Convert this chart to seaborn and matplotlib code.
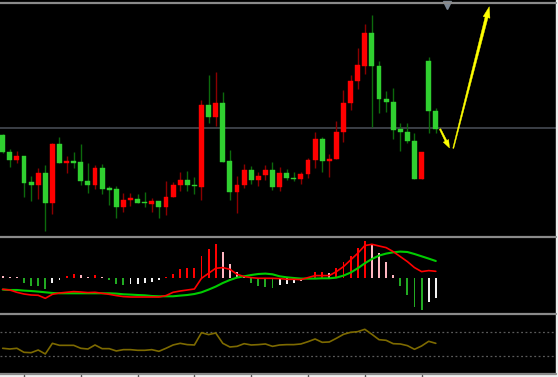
import numpy as np
import pandas as pd
import matplotlib
matplotlib.use("Agg")
import matplotlib.pyplot as plt
import seaborn as sns
from matplotlib.lines import Line2D
from matplotlib.patches import Rectangle, Polygon
from matplotlib.transforms import IdentityTransform

sns.set_style("dark")
plt.rcParams["font.family"] = ["DejaVu Sans"]
plt.rcParams["patch.force_edgecolor"] = False

# ---------------- data ----------------
bars = list(range(62))
opens = [105.0, 87.7, 79.7, 84.0, 58.3, 55.0, 66.7, 37.3, 95.7, 77.0,
         79.0, 78.0, 59.0, 54.7, 71.7, 52.0, 51.3, 33.0, 39.7, 41.3,
         38.3, 36.3, 38.7, 32.7, 43.0, 54.7, 59.7, 55.0, 53.3, 134.7,
         123.3, 136.7, 79.0, 47.7, 54.7, 70.0, 59.7, 65.3, 70.3, 53.0,
         66.7, 62.3, 61.0, 65.7, 80.3, 101.0, 78.7, 80.7, 107.7, 137.0,
         159.0, 174.3, 207.0, 174.0, 141.0, 138.0, 110.7, 108.0, 99.0, 61.0,
         179.0, 128.7]
highs = [106.0, 91.0, 89.0, 84.0, 64.0, 71.7, 75.0, 96.7, 103.0, 84.3,
         88.0, 96.0, 77.0, 75.0, 75.7, 54.3, 54.3, 47.3, 46.7, 46.0,
         48.3, 42.3, 38.7, 59.0, 58.3, 68.3, 69.0, 63.3, 140.3, 165.3,
         168.3, 148.0, 90.0, 64.0, 75.7, 74.3, 68.3, 75.3, 77.7, 73.3,
         71.0, 67.7, 68.0, 81.7, 108.3, 103.3, 86.0, 119.3, 150.0, 165.0,
         192.3, 216.0, 225.0, 179.3, 149.0, 152.0, 116.7, 117.0, 106.7, 87.7,
         183.3, 131.7]
lows = [87.0, 73.0, 76.7, 43.3, 39.3, 40.7, 9.3, 26.0, 76.7, 67.3,
        71.7, 55.0, 47.3, 51.3, 46.3, 35.3, 22.0, 28.0, 33.7, 37.0,
        33.3, 27.7, 22.3, 24.7, 43.0, 49.0, 49.3, 45.7, 40.0, 117.0,
        113.7, 78.3, 39.7, 26.7, 52.3, 55.7, 54.0, 60.0, 50.3, 49.0,
        60.3, 58.7, 56.3, 62.3, 71.7, 68.3, 62.7, 80.7, 98.3, 130.0,
        150.7, 166.0, 112.7, 127.3, 128.0, 100.7, 88.7, 96.7, 61.0, 61.0,
        107.3, 107.3]
closes = [87.7, 79.7, 83.7, 57.3, 55.3, 66.7, 37.3, 95.7, 76.7, 78.7,
          77.3, 58.7, 55.0, 71.7, 51.3, 50.3, 33.0, 40.3, 41.7, 37.0,
          36.7, 39.0, 32.7, 43.0, 55.3, 59.7, 54.7, 54.0, 134.7, 123.3,
          136.7, 78.3, 47.7, 55.3, 70.0, 59.7, 63.7, 69.7, 53.0, 66.7,
          62.0, 61.0, 66.0, 80.3, 101.0, 78.7, 80.7, 108.0, 137.0, 159.0,
          174.7, 207.0, 174.3, 140.7, 138.0, 110.3, 107.7, 98.7, 61.0, 87.7,
          128.7, 111.3]
level_price = 111.5

macd_main = [-11.0, -11.7, -14.0, -15.7, -16.7, -17.0, -20.0, -16.0, -14.7, -14.0,
             -13.3, -13.7, -14.3, -14.0, -15.0, -16.0, -17.3, -18.3, -18.7, -18.7,
             -18.7, -18.7, -18.7, -17.3, -14.0, -12.7, -11.7, -10.7, 0.0, 5.0,
             10.0, 10.7, 9.0, 4.0, 1.7, 0.7, 0.0, 0.0, 0.0, -0.3,
             -1.0, -1.0, -1.3, 0.7, 2.7, 2.7, 2.7, 6.7, 11.7, 18.3,
             25.0, 32.7, 34.0, 32.3, 30.7, 26.7, 21.7, 16.7, 10.7, 6.7,
             7.7, 7.0]
macd_signal = [-11.3, -11.7, -11.7, -12.3, -12.7, -13.3, -14.0, -14.7, -15.0, -15.0,
               -15.0, -15.0, -15.0, -15.0, -15.0, -15.0, -15.3, -16.0, -16.3, -16.7,
               -17.0, -17.7, -18.0, -18.0, -18.0, -17.3, -16.7, -15.7, -14.0, -11.3,
               -8.3, -4.7, -1.7, 0.7, 2.0, 3.3, 4.3, 4.7, 4.0, 2.0,
               1.0, 0.3, -0.3, -0.3, -0.3, 0.0, 0.0, 0.7, 2.7, 5.7,
               10.0, 15.0, 19.3, 22.7, 24.7, 26.0, 26.7, 26.3, 24.3, 22.0,
               19.7, 17.3]
macd_hist = [2.0, 1.6, 1.2, -4.3, -7.3, -7.7, -11.0, -4.3, -1.7, 2.3,
             4.7, 3.3, 1.7, 3.0, 1.0, -2.0, -5.7, -6.3, -5.7, -5.3,
             -5.0, -3.3, -2.0, 1.0, 4.3, 9.0, 10.0, 10.3, 22.7, 29.0,
             34.0, 26.7, 14.0, 6.0, 1.7, -4.3, -7.7, -8.3, -9.3, -6.7,
             -5.3, -4.3, -2.7, 1.0, 6.0, 6.3, 5.0, 10.0, 16.7, 22.7,
             30.0, 37.3, 33.3, 25.0, 16.0, 3.3, -7.7, -17.0, -28.3, -31.3,
             -23.3, -19.3]
osc_values = [43.0, 41.8, 43.0, 36.2, 35.6, 40.1, 33.4, 51.4, 48.0, 48.0,
              48.0, 43.0, 41.8, 48.6, 42.4, 42.4, 38.5, 40.7, 40.7, 39.6,
              39.6, 40.7, 37.9, 43.0, 48.6, 51.4, 49.2, 48.6, 69.4, 66.1,
              68.9, 51.4, 45.2, 46.3, 50.8, 48.6, 49.2, 50.3, 46.3, 48.6,
              49.2, 49.2, 50.3, 54.2, 58.7, 53.1, 53.7, 59.9, 66.6, 70.0,
              71.1, 75.1, 66.6, 57.6, 56.5, 50.8, 50.3, 47.5, 41.3, 46.9,
              54.8, 51.4]
osc_levels = [70, 30]
arrow_small = [(61.6, 111.0), (62.93, 92.0)]
arrow_big = [(63.46, 91.7), (68.53, 233.3)]
period_ticks = [3, 11, 19, 27, 35, 43, 51, 59]
scroll_marker = (62.6, 235.0)

df = pd.DataFrame({"bar": bars, "open": opens, "high": highs, "low": lows,
                   "close": closes, "macd": macd_main, "signal": macd_signal,
                   "hist": macd_hist, "osc": osc_values})

# ---------------- layout ----------------
W, H = 558, 377
fig = plt.figure(figsize=(W / 100, H / 100), dpi=100, facecolor="black")


def rect(x0, y0, x1, y1):
    return [x0 / W, 1 - y1 / H, (x1 - x0) / W, (y1 - y0) / H]


ax1 = fig.add_axes(rect(0, 3, 556, 236.5))
ax2 = fig.add_axes(rect(0, 236.5, 556, 313.5))
ax3 = fig.add_axes(rect(0, 313.5, 556, 373.5))
XL = (-0.38, 77.93)
for ax in (ax1, ax2, ax3):
    ax.set_facecolor("black")
    ax.set_xlim(*XL)
    ax.set_xticks([])
    ax.set_yticks([])
    for s in ax.spines.values():
        s.set_visible(False)
ax1.set_ylim(3.5, 237)
ax2.set_ylim(-35.2, 41.8)
ax3.set_ylim(0.4, 101.8)

# white strips at right and bottom
fig.patches.append(Rectangle((556 / W, 0), 2 / W, 1, transform=fig.transFigure,
                             color="#f0f0f0", zorder=0))
fig.patches.append(Rectangle((0, 0), 1, 3.2 / H, transform=fig.transFigure,
                             color="#f0f0f0", zorder=0))

# panel separator lines
for yy in (3.2, 236.5, 313.5, 373.5):
    fig.add_artist(Line2D([0, 556 / W], [1 - yy / H, 1 - yy / H],
                          transform=fig.transFigure, color="#8a8a8a", lw=1.6))

# ---------------- main candles ----------------
ax1.axhline(level_price, color="#454a52", lw=1.2, zorder=1)
for _, r in df.iterrows():
    up = r["close"] >= r["open"]
    body = "#ff0000" if up else "#30d030"
    wick = "#8b0000" if up else "#0c6a0c"
    ax1.vlines(r["bar"], r["low"], r["high"], color=wick, lw=1.0, zorder=2)
    lo = min(r["open"], r["close"])
    hgt = max(abs(r["close"] - r["open"]), 0.8)
    ax1.bar(r["bar"], hgt, bottom=lo, width=0.68, color=body,
            edgecolor=body, lw=0.3, zorder=3)

ax1.plot([scroll_marker[0]], [scroll_marker[1]], marker="v", ms=6,
         color="#7b8794", clip_on=False, zorder=6)


def taper_arrow(ax, p0, p1, w0, w1, head_w, head_l, color):
    a = ax.transData.transform(p0)
    b = ax.transData.transform(p1)
    d = b - a
    d = d / np.hypot(*d)
    n = np.array([-d[1], d[0]])
    base = b - d * head_l
    pts = [a + n * w0 / 2, base + n * w1 / 2, base + n * head_w / 2, b,
           base - n * head_w / 2, base - n * w1 / 2, a - n * w0 / 2]
    fig.patches.append(Polygon(pts, closed=True, transform=IdentityTransform(),
                               facecolor=color, edgecolor=color, lw=0.3, zorder=10))


fig.canvas.draw()
taper_arrow(ax1, arrow_small[0], arrow_small[1], 1.5, 2.0, 6.0, 8.0, "#ffff00")
taper_arrow(ax1, arrow_big[0], arrow_big[1], 1.0, 3.0, 7.0, 11.0, "#ffff00")

# ---------------- MACD panel ----------------
hist_colors = []
prev = None
for v in macd_hist:
    rising = prev is not None and v > prev
    if v >= 0:
        hist_colors.append("#ff0000" if rising else "#ffb6c1")
    else:
        hist_colors.append("#f2f2f2" if rising else "#22aa22")
    prev = v
ax2.bar(df["bar"], df["hist"], width=0.26, color=hist_colors,
        edgecolor=hist_colors, linewidth=0, zorder=2)
sns.lineplot(data=df, x="bar", y="signal", ax=ax2, color="#00cc00", lw=1.5, zorder=3)
sns.lineplot(data=df, x="bar", y="macd", ax=ax2, color="#ff0000", lw=1.2, zorder=4)
ax2.set_xlabel("")
ax2.set_ylabel("")

# ---------------- oscillator panel ----------------
for lv in osc_levels:
    ax3.axhline(lv, color="#5a5a5a", lw=0.9, ls=(0, (1.5, 2)), zorder=1)
sns.lineplot(data=df, x="bar", y="osc", ax=ax3, color="#7d6a00", lw=1.2, zorder=3)
ax3.set_xlabel("")
ax3.set_ylabel("")

# period tick marks below the bottom line
for t in period_ticks:
    xd = ax3.transData.transform((t, 0))[0] / W
    fig.add_artist(Line2D([xd, xd], [1 - 374.5 / H, 1 - 376.5 / H],
                          transform=fig.transFigure, color="#555555", lw=1.0))

fig.savefig("out.png", dpi=100, facecolor=fig.get_facecolor())
